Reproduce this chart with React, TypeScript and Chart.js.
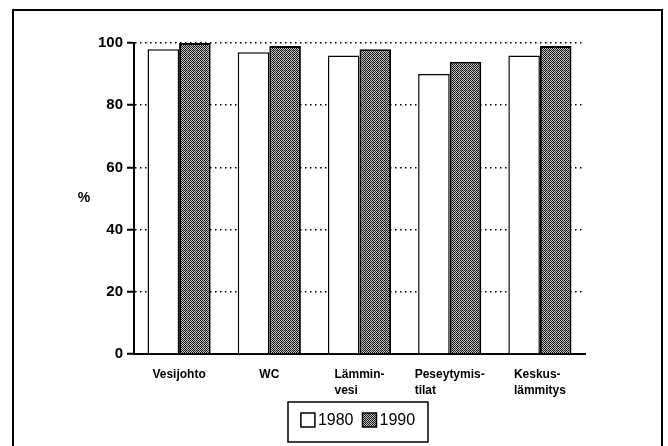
import React, { useEffect, useRef } from "react";
import { Chart, registerables } from "chart.js";
Chart.register(...registerables);

const categories: string[][] = [
  ["Vesijohto"],
  ["WC"],
  ["Lämmin-", "vesi"],
  ["Peseytymis-", "tilat"],
  ["Keskus-", "lämmitys"],
];
const seriesNames = ["1980", "1990"];
const values1980 = [98, 97, 96, 90, 96];
const values1990 = [100, 99, 98, 94, 99];
const yTicks = [0, 20, 40, 60, 80, 100];
const yTitle = "%";

const FONT = '"Liberation Sans", Arial, Helvetica, sans-serif';

function makePattern(): CanvasPattern | string {
  const c = document.createElement("canvas");
  c.width = 4;
  c.height = 4;
  const g = c.getContext("2d");
  if (!g) return "#808080";
  for (let y = 0; y < 4; y++) {
    for (let x = 0; x < 4; x++) {
      const dark = (x + y) % 2 === 0;
      g.fillStyle = dark ? (x === 0 && y === 0 ? "#000000" : "#1c1c1c") : (x === 1 && y === 2 ? "#8c8c8c" : "#c4c4c4");
      g.fillRect(x, y, 1, 1);
    }
  }
  return g.createPattern(c, "repeat") || "#808080";
}

export default function App() {
  const ref = useRef<HTMLCanvasElement | null>(null);

  useEffect(() => {
    const canvas = ref.current;
    if (!canvas) return;
    const pattern = makePattern();

    const decor = {
      id: "decor",
      beforeDraw(chart: any) {
        const ctx = chart.ctx as CanvasRenderingContext2D;
        ctx.save();
        ctx.fillStyle = "#fff";
        ctx.fillRect(0, 0, chart.width, chart.height);
        ctx.strokeStyle = "#000";
        ctx.lineWidth = 2;
        ctx.strokeRect(13, 10, 649, 480);
        ctx.restore();
      },
      afterDraw(chart: any) {
        const ctx = chart.ctx as CanvasRenderingContext2D;
        const xs = chart.scales.x;
        const area = chart.chartArea;
        ctx.save();
        ctx.fillStyle = "#000";
        ctx.font = `bold 12px ${FONT}`;
        ctx.textBaseline = "middle";
        ctx.textAlign = "left";
        const labels = chart.data.labels as string[][];
        labels.forEach((lines, i) => {
          const cx = xs.getPixelForTick(i);
          const w = Math.max(...lines.map((l) => ctx.measureText(l).width));
          lines.forEach((l, j) => ctx.fillText(l, cx - w / 2, area.bottom + 21 + j * 16));
        });
        ctx.font = `bold 14px ${FONT}`;
        ctx.textAlign = "center";
        ctx.fillText(yTitle, area.left - 50, (area.top + area.bottom) / 2);

        ctx.font = `16px ${FONT}`;
        const ds = chart.data.datasets;
        const sw = 14, gap = 3, between = 9;
        const widths = ds.map((d: any) => ctx.measureText(d.label).width);
        const content = ds.length * (sw + gap) + widths.reduce((a: number, b: number) => a + b, 0) + between * (ds.length - 1);
        const boxW = 140, boxH = 40;
        const cxm = (area.left + area.right) / 2;
        const bx = Math.round(cxm - boxW / 2) - 2;
        const by = area.bottom + 48;
        ctx.lineWidth = 1.5;
        ctx.strokeStyle = "#000";
        ctx.strokeRect(bx, by, boxW, boxH);
        let x = bx + (boxW - content) / 2;
        const cy = by + 18;
        ds.forEach((d: any, i: number) => {
          ctx.fillStyle = d.backgroundColor;
          ctx.fillRect(x, cy - sw / 2, sw, sw);
          ctx.strokeStyle = "#000";
          ctx.lineWidth = 1.5;
          ctx.strokeRect(x, cy - sw / 2, sw, sw);
          x += sw + gap;
          ctx.fillStyle = "#000";
          ctx.textAlign = "left";
          ctx.fillText(d.label, x, cy + 1);
          x += widths[i] + between;
        });
        ctx.restore();
      },
    };

    const chart = new Chart(canvas, {
      type: "bar",
      data: {
        labels: categories as any,
        datasets: [
          {
            label: seriesNames[0],
            data: values1980,
            backgroundColor: "#ffffff",
            borderColor: "#000",
            borderWidth: 1.5,
            borderSkipped: "bottom",
            categoryPercentage: 0.7,
            barPercentage: 1,
          },
          {
            label: seriesNames[1],
            data: values1990,
            backgroundColor: pattern as any,
            borderColor: "#000",
            borderWidth: 2,
            borderSkipped: "bottom",
            categoryPercentage: 0.7,
            barPercentage: 1,
          },
        ],
      },
      options: {
        animation: false,
        responsive: false,
        devicePixelRatio: 1,
        layout: { padding: { top: 43, right: 83, left: 0, bottom: 0 } },
        plugins: { legend: { display: false }, tooltip: { enabled: false } },
        scales: {
          x: {
            z: 1,
            grid: { display: false },
            border: { display: true, color: "#000", width: 2 },
            ticks: { display: false },
            afterFit: (s: any) => {
              s.height = 92;
            },
          },
          y: {
            min: 0,
            max: 100,
            afterBuildTicks: (s: any) => {
              s.ticks = yTicks.map((v) => ({ value: v }));
            },
            grid: {
              color: "#000",
              lineWidth: 1.5,
              drawTicks: true,
              tickLength: 7,
              tickColor: "#000",
              tickWidth: 2,
            },
            border: { display: true, color: "#000", width: 2, dash: [1.5, 3.5] },
            ticks: {
              padding: 4,
              color: "#000",
              font: { family: FONT, size: 15, weight: "bold" },
            },
            afterFit: (s: any) => {
              s.width = 134;
            },
          },
        },
      },
      plugins: [decor],
    });
    return () => chart.destroy();
  }, []);

  return (
    <canvas
      ref={ref}
      width={668}
      height={446}
      style={{ position: "absolute", left: 0, top: 0, width: 668, height: 446 }}
    />
  );
}
